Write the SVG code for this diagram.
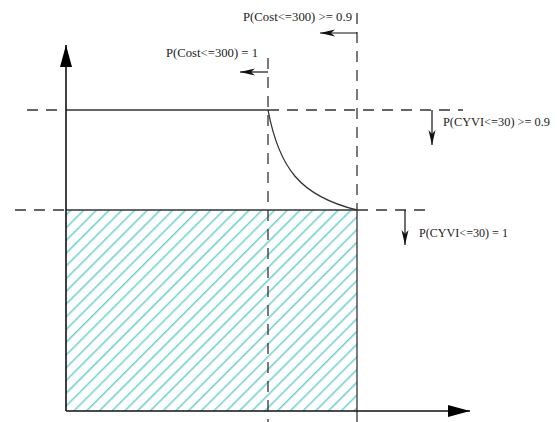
<svg xmlns="http://www.w3.org/2000/svg" width="557" height="422" viewBox="0 0 557 422">
<style>
.ax{stroke:#111;stroke-width:1.6;fill:none}
.ln{stroke:#333;stroke-width:1.3;fill:none}
.dash{stroke:#333;stroke-width:1.3;fill:none;stroke-dasharray:11 8}
.sm{stroke:#111;stroke-width:1.2;fill:none}
.lbl{font-family:"Liberation Serif","Times New Roman",serif;font-size:12px;fill:#222}
</style>
<defs>
<pattern id="hatch" patternUnits="userSpaceOnUse" width="9" height="9" patternTransform="rotate(45)">
<rect width="9" height="9" fill="#fff"/>
<line x1="0" y1="0" x2="0" y2="9" stroke="#6fcfcf" stroke-width="3"/>
</pattern>
<marker id="big" markerWidth="24" markerHeight="12" refX="22" refY="6" orient="auto" markerUnits="userSpaceOnUse">
<path d="M0,0 L22,6 L0,12 z" fill="#000"/>
</marker>
<marker id="small" markerWidth="16" markerHeight="8" refX="15" refY="4" orient="auto" markerUnits="userSpaceOnUse">
<path d="M0,0.5 L15,4 L0,7.5 L4,4 z" fill="#111"/>
</marker>
</defs>
<g id="region">
<rect x="66" y="210" width="291" height="201" fill="url(#hatch)"/>
</g>
<g id="connectors">
<line class="dash" x1="268" y1="58" x2="268" y2="422"/>
<line class="dash" x1="357" y1="13" x2="357" y2="210"/>
<line class="ln" x1="357" y1="210" x2="357" y2="422"/>
<line class="dash" x1="27" y1="110" x2="62" y2="110"/>
<line class="ln" x1="66" y1="110" x2="268" y2="110"/>
<line class="dash" x1="268" y1="110" x2="463" y2="110"/>
<line class="dash" x1="15" y1="210" x2="64" y2="210"/>
<line class="ln" x1="66" y1="210" x2="357" y2="210"/>
<line class="dash" x1="357" y1="210" x2="430" y2="210"/>
<path class="ln" d="M268,110 C279,168 300,196 357,210"/>
<line class="ax" x1="66" y1="411" x2="66" y2="45" marker-end="url(#big)"/>
<line class="ax" x1="66" y1="411" x2="470" y2="411" marker-end="url(#big)"/>
<line class="sm" x1="357" y1="33" x2="320" y2="33" marker-end="url(#small)"/>
<line class="sm" x1="268" y1="72" x2="240" y2="72" marker-end="url(#small)"/>
<line class="sm" x1="432" y1="110" x2="432" y2="145" marker-end="url(#small)"/>
<line class="sm" x1="405" y1="210" x2="405" y2="245" marker-end="url(#small)"/>
</g>
<g id="labels">
<text class="lbl" x="243" y="21" textLength="109" lengthAdjust="spacingAndGlyphs">P(Cost&lt;=300) &gt;= 0.9</text>
<text class="lbl" x="166" y="57" textLength="92" lengthAdjust="spacingAndGlyphs">P(Cost&lt;=300) = 1</text>
<text class="lbl" x="443" y="126" textLength="107" lengthAdjust="spacingAndGlyphs">P(CYVI&lt;=30) &gt;= 0.9</text>
<text class="lbl" x="419" y="237" textLength="89" lengthAdjust="spacingAndGlyphs">P(CYVI&lt;=30) = 1</text>
</g>
</svg>
